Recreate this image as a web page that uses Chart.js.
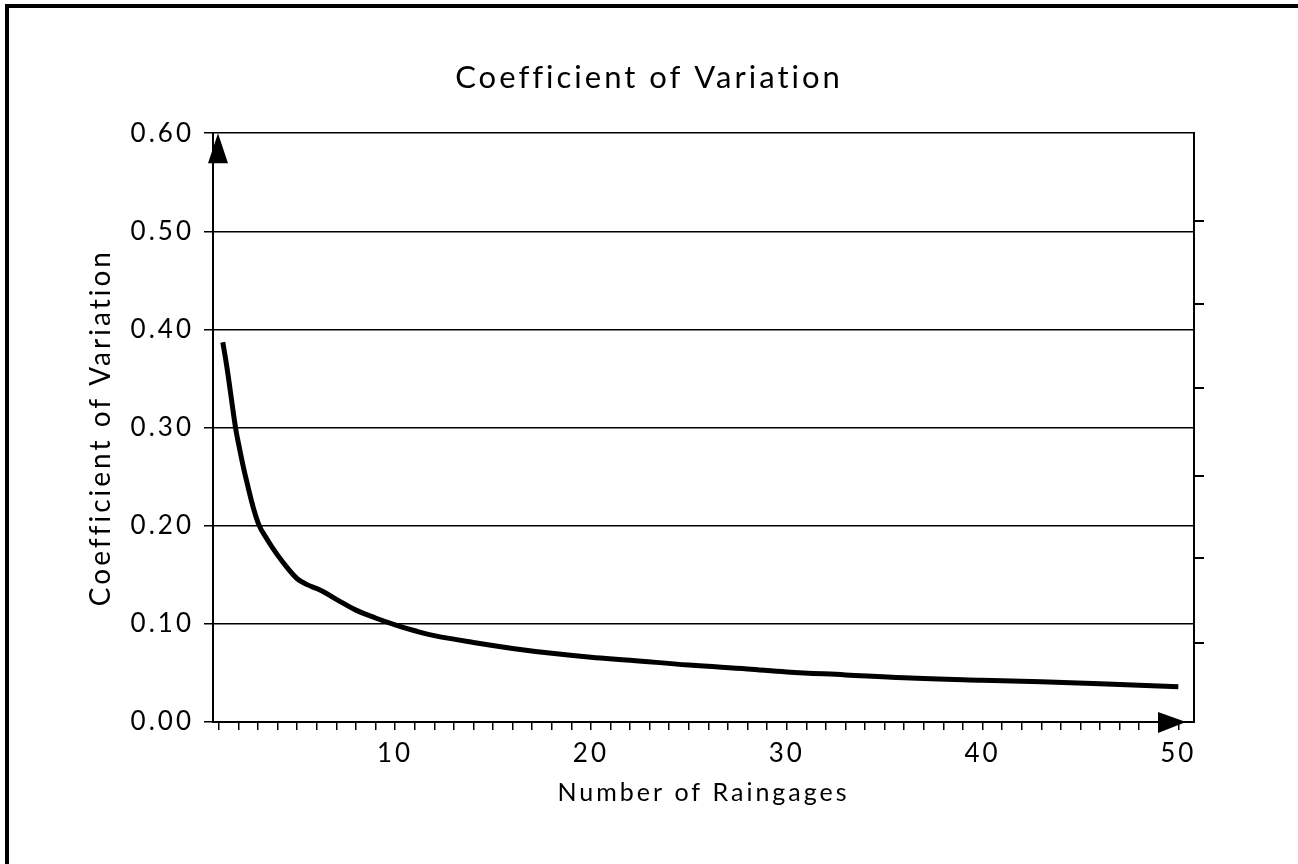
<!DOCTYPE html>
<html>
<head>
<meta charset="utf-8">
<script src="https://cdn.jsdelivr.net/npm/chart.js@4.4.1/dist/chart.umd.min.js"></script>
<style>
  html, body { margin: 0; padding: 0; background: #fff; overflow: hidden; }
  #wrap { position: relative; width: 1298px; height: 864px; }
  #frame {
    position: absolute; left: 5px; top: 4px; width: 1400px; height: 1000px;
    border-left: 4px solid #000; border-top: 4px solid #000; pointer-events: none;
  }
</style>
</head>
<body>
<div id="wrap">
  <canvas id="chart" width="1298" height="864"></canvas>
  <div id="frame"></div>
</div>
<script>
// number of raingages and the coefficient of variation
const raingages = [1.2, 1.4, 1.6, 1.85, 2, 2.4, 3, 3.5, 4, 4.5, 5, 5.5, 6, 6.5, 7, 8, 9, 10,
  11, 12, 14, 16, 18, 20, 22, 25, 28, 30, 33, 36, 40, 43, 46, 50];
const cvValues = [0.387, 0.363, 0.335, 0.300, 0.284, 0.247, 0.203, 0.185, 0.170, 0.157, 0.146,
  0.140, 0.136, 0.131, 0.125, 0.114, 0.106, 0.099, 0.093, 0.088, 0.081, 0.075, 0.070, 0.066,
  0.063, 0.058, 0.054, 0.051, 0.048, 0.045, 0.0425, 0.041, 0.039, 0.036];

// ticks on the right-hand frame
const rightTicks = [0.080, 0.167, 0.251, 0.340, 0.426, 0.511];

const FONT = "Lato, 'DejaVu Sans', sans-serif";

const spacing = {
  id: "spacing",
  beforeLayout(chart) { chart.ctx.letterSpacing = "3px"; },
  beforeDraw(chart) { chart.ctx.letterSpacing = "3px"; },
};

const arrows = {
  id: "arrows",
  afterDraw(chart) {
    const { ctx } = chart;
    const x = chart.scales.x, y = chart.scales.y;
    ctx.save();
    ctx.fillStyle = "#000";
    // arrow at the top of the y axis
    const ax = x.left + 5, ay = y.getPixelForValue(0.6);
    ctx.beginPath();
    ctx.moveTo(ax, ay);
    ctx.lineTo(ax - 10, ay + 30);
    ctx.lineTo(ax + 10, ay + 30);
    ctx.closePath();
    ctx.fill();
    // arrow at the end of the x axis
    const bx = x.right - 8, by = y.getPixelForValue(0);
    ctx.beginPath();
    ctx.moveTo(bx, by);
    ctx.lineTo(bx - 28, by - 10);
    ctx.lineTo(bx - 28, by + 11);
    ctx.closePath();
    ctx.fill();
    ctx.restore();
  },
};

const init = function () {
  const canvas = document.getElementById("chart");
  new Chart(canvas, {
    type: "line",
    data: {
      datasets: [{
        data: raingages.map((n, i) => ({ x: n, y: cvValues[i] })),
        borderColor: "#000",
        borderWidth: 5,
        pointRadius: 0,
        tension: 0.4,
        fill: false,
      }],
    },
    plugins: [spacing, arrows],
    options: {
      responsive: false,
      animation: false,
      devicePixelRatio: 1,
      layout: { padding: 0 },
      plugins: {
        legend: { display: false },
        tooltip: { enabled: false },
        title: {
          display: true,
          text: "Coefficient of Variation",
          color: "#000",
          font: { family: FONT, size: 31, weight: "normal" },
          padding: { top: 59, bottom: 37 },
        },
      },
      scales: {
        x: {
          type: "linear",
          position: "bottom",
          min: 0.7,
          max: 50.8,
          afterFit: (s) => { s.height = 142; },
          border: { display: true, color: "#000", width: 2 },
          grid: { drawOnChartArea: false, color: "#000", lineWidth: 1.5, tickLength: 8 },
          ticks: {
            stepSize: 1,
            includeBounds: false,
            autoSkip: false,
            maxRotation: 0,
            padding: 8,
            color: "#000",
            font: { family: FONT, size: 26 },
            callback: (v) => (v % 10 === 0 ? String(v) : ""),
          },
          title: {
            display: true,
            text: "Number of Raingages",
            color: "#000",
            font: { family: FONT, size: 25 },
            padding: { top: 0, bottom: 56 },
          },
        },
        y: {
          position: "left",
          min: 0,
          max: 0.6,
          afterFit: (s) => { s.width = 213; },
          border: { display: true, color: "#000", width: 2 },
          grid: { color: "#000", lineWidth: 1.5, tickLength: 9 },
          ticks: {
            stepSize: 0.1,
            padding: 10,
            color: "#000",
            font: { family: FONT, size: 26 },
            callback: (v) => v.toFixed(2),
          },
          title: {
            display: true,
            text: "Coefficient of Variation",
            color: "#000",
            font: { family: FONT, size: 28 },
            padding: { top: 84, bottom: 0 },
          },
        },
        y2: {
          position: "right",
          min: 0,
          max: 0.6,
          afterFit: (s) => { s.width = 104; },
          afterBuildTicks: (s) => { s.ticks = rightTicks.map((v) => ({ value: v })); },
          border: { display: true, color: "#000", width: 2 },
          grid: { drawOnChartArea: false, color: "#000", lineWidth: 2, tickLength: 10 },
          ticks: { display: false },
        },
      },
    },
  });
};

window.onload = () => {
  if (document.readyState !== "loading") {
    init();
  } else {
    document.addEventListener("DOMContentLoaded", init);
  }
};
</script>
</body>
</html>
